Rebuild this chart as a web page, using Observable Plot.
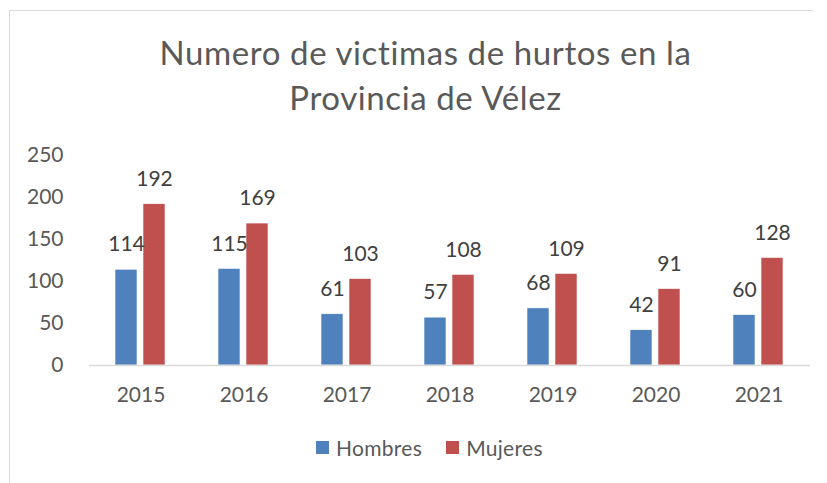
<!DOCTYPE html>
<html>
<head>
<meta charset="utf-8">
<script src="https://cdn.jsdelivr.net/npm/d3@7"></script>
<script src="https://cdn.jsdelivr.net/npm/@observablehq/plot@0.6"></script>
<style>
  html, body { margin: 0; padding: 0; background: #fff; }
  #wrap { position: relative; width: 827px; height: 483px; overflow: hidden; font-family: Lato, sans-serif; color: #595959; }
  #frameTop { position: absolute; left: 9px; top: 10px; width: 804px; height: 0; border-top: 1.5px solid #d9d9d9; }
  #frameLeft { position: absolute; left: 9px; top: 10px; width: 0; height: 480px; border-left: 1.5px solid #d9d9d9; }
  #title { position: absolute; left: 12px; top: 30px; width: 827px; text-align: center; font-size: 33px; letter-spacing: 0.6px; line-height: 45px; }
  #chart { position: absolute; left: 0; top: 0; }
  #legend { position: absolute; left: 316px; top: 435px; display: flex; align-items: center; font-size: 21px; letter-spacing: 0.3px; }
  .item { display: flex; align-items: center; margin-right: 24px; }
  .sw { width: 13px; height: 13px; margin-right: 7px; }
</style>
</head>
<body>
<div id="wrap">
  <div id="frameTop"></div>
  <div id="frameLeft"></div>
  <div id="title">Numero de victimas de hurtos en la<br>Provincia de Vélez</div>
  <div id="chart"></div>
  <div id="legend"></div>
</div>
<script>
const years = ["2015", "2016", "2017", "2018", "2019", "2020", "2021"];
const series = ["Hombres", "Mujeres"];
const hombres = [114, 115, 61, 57, 68, 42, 60];
const mujeres = [192, 169, 103, 108, 109, 91, 128];
const colors = ["#4F81BD", "#C0504D"];
const yTicks = [0, 50, 100, 150, 200, 250];

const data = years.flatMap((y, i) => [
  {year: y, serie: series[0], value: hombres[i]},
  {year: y, serie: series[1], value: mujeres[i]}
]);

const chart = Plot.plot({
  width: 827,
  height: 483,
  marginLeft: 86,
  marginRight: 14,
  marginTop: 155,
  marginBottom: 118,
  style: {fontFamily: "Lato, sans-serif", fontSize: "21px", color: "#595959", background: "transparent"},
  fx: {domain: years, padding: 0, label: null},
  x: {domain: series, paddingInner: 6 / 29, paddingOuter: 0.895, axis: null},
  y: {domain: [0, 250], label: null},
  color: {domain: series, range: colors},
  marks: [
    Plot.axisY({ticks: yTicks, tickSize: 0, tickPadding: 26, label: null, fontSize: 21, fill: "#595959"}),
    Plot.axisFx({anchor: "bottom", tickSize: 0, tickPadding: 22, label: null, fontSize: 21, fill: "#595959"}),
    Plot.barY(data, {fx: "year", x: "serie", y: "value", fill: "serie", stroke: "#ffffff", strokeWidth: 0.6}),
    Plot.ruleY([0], {stroke: "#d9d9d9", strokeWidth: 1.5}),
    Plot.text(data, {fx: "year", x: "serie", y: "value", text: "value", dy: -25, fill: "#404040", fontSize: 21})
  ]
});
document.getElementById("chart").appendChild(chart);

const legend = document.getElementById("legend");
series.forEach((s, i) => {
  const item = document.createElement("div");
  item.className = "item";
  const sw = document.createElement("div");
  sw.className = "sw";
  sw.style.background = colors[i];
  const t = document.createElement("span");
  t.textContent = s;
  item.appendChild(sw);
  item.appendChild(t);
  legend.appendChild(item);
});
</script>
</body>
</html>
